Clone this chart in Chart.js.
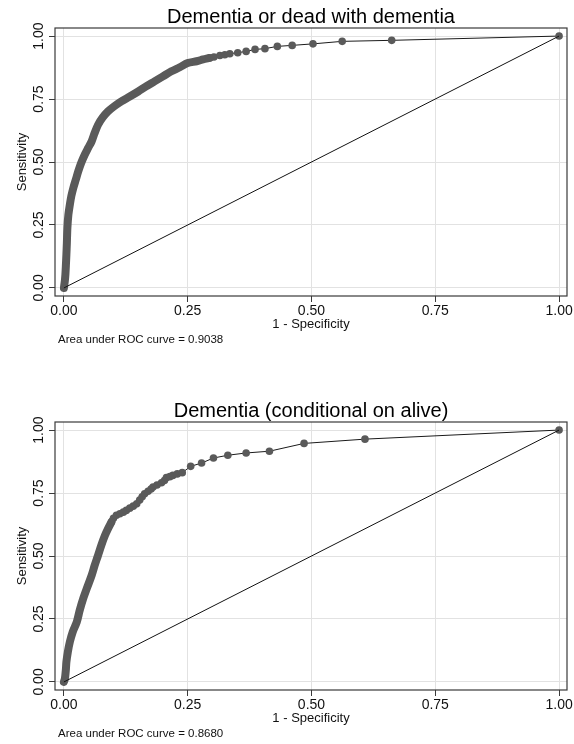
<!DOCTYPE html>
<html>
<head>
<meta charset="utf-8">
<script src="https://cdn.jsdelivr.net/npm/chart.js@4/dist/chart.umd.min.js"></script>
<style>
  html, body { margin: 0; padding: 0; background: #fff; }
  body { width: 574px; height: 744px; position: relative; overflow: hidden; font-family: "Liberation Sans", Arial, sans-serif; }
  canvas { position: absolute; left: 0; }
  #c1 { top: 0; }
  #c2 { top: 394px; }
  .auc { position: absolute; left: 58px; font-size: 11.5px; color: #111; white-space: nowrap; }
  #auc1 { top: 333px; }
  #auc2 { top: 727px; }
</style>
</head>
<body>
<canvas id="c1" width="574" height="334"></canvas>
<div class="auc" id="auc1">Area under ROC curve = 0.9038</div>
<canvas id="c2" width="574" height="334"></canvas>
<div class="auc" id="auc2">Area under ROC curve = 0.8680</div>
<script>
// =========================================================
// DATOS
// =========================================================
const TICKS = [0, 0.25, 0.5, 0.75, 1];

// panel 1: dementia or dead with dementia
const p1Title = 'Dementia or dead with dementia';
// tramo denso (los marcadores se solapan)
const p1DenseFpr = [0, 0.002, 0.003, 0.004, 0.005, 0.006, 0.007, 0.009, 0.012, 0.015, 0.019, 0.024, 0.029, 0.035, 0.042, 0.049, 0.056, 0.062, 0.069, 0.078, 0.089, 0.102, 0.116, 0.133, 0.150, 0.166, 0.183, 0.200, 0.217, 0.234, 0.250, 0.268, 0.281, 0.294];
const p1DenseTpr = [0, 0.030, 0.053, 0.090, 0.132, 0.180, 0.238, 0.290, 0.331, 0.365, 0.397, 0.430, 0.463, 0.497, 0.529, 0.556, 0.582, 0.615, 0.648, 0.676, 0.701, 0.722, 0.741, 0.760, 0.780, 0.800, 0.820, 0.840, 0.860, 0.876, 0.893, 0.900, 0.907, 0.913];
// tramo con marcadores sueltos
const p1PtFpr = [0.294, 0.303, 0.315, 0.325, 0.335, 0.351, 0.368, 0.386, 0.406, 0.431, 0.461, 0.503, 0.562, 0.662, 1];
const p1PtTpr = [0.913, 0.917, 0.923, 0.926, 0.930, 0.934, 0.939, 0.947, 0.950, 0.959, 0.963, 0.969, 0.979, 0.983, 1];

// panel 2: dementia (conditional on alive)
const p2Title = 'Dementia (conditional on alive)';
const p2DenseFpr = [0, 0.002, 0.004, 0.005, 0.008, 0.012, 0.018, 0.026, 0.032, 0.039, 0.047, 0.056, 0.062, 0.069, 0.076, 0.083, 0.090, 0.096];
const p2DenseTpr = [0, 0.013, 0.050, 0.079, 0.120, 0.159, 0.200, 0.238, 0.285, 0.331, 0.375, 0.423, 0.462, 0.503, 0.545, 0.582, 0.612, 0.635];
const p2PtFpr = [0.096, 0.100, 0.106, 0.113, 0.120, 0.126, 0.133, 0.140, 0.147, 0.153, 0.158, 0.163, 0.170, 0.176, 0.180, 0.188, 0.197, 0.203, 0.207, 0.214, 0.220, 0.229, 0.239, 0.256, 0.278, 0.302, 0.331, 0.368, 0.415, 0.485, 0.608, 1];
const p2PtTpr = [0.635, 0.650, 0.662, 0.668, 0.674, 0.681, 0.690, 0.698, 0.707, 0.722, 0.735, 0.747, 0.757, 0.766, 0.774, 0.782, 0.791, 0.800, 0.811, 0.815, 0.820, 0.826, 0.831, 0.856, 0.869, 0.889, 0.900, 0.909, 0.916, 0.947, 0.964, 1];

// diagonal de referencia
const diagFpr = [0, 1];
const diagTpr = [0, 1];

// =========================================================
// GRAFICO
// =========================================================
const MARK = '#5a5a5a';
const FONT = "'Liberation Sans', Arial, sans-serif";

const pares = (xs, ys) => xs.map((x, i) => ({ x: x, y: ys[i] }));

// marco completo alrededor del area del grafico
const marco = {
    id: 'marco',
    afterDraw(chart) {
        const { ctx, chartArea: a } = chart;
        ctx.save();
        ctx.strokeStyle = '#3a3a3a';
        ctx.lineWidth = 1.2;
        ctx.strokeRect(a.left, a.top, a.right - a.left, a.bottom - a.top);
        ctx.restore();
    }
};

function crearRoc(id, titulo, dFpr, dTpr, pFpr, pTpr) {
    return new Chart(document.getElementById(id), {
        type: 'scatter',
        data: {
            datasets: [
                { data: pares(diagFpr, diagTpr), showLine: true, borderColor: '#111', borderWidth: 1, pointRadius: 0 },
                { data: pares(pFpr, pTpr), showLine: true, borderColor: '#1a1a1a', borderWidth: 1,
                  pointRadius: 3.8, pointBackgroundColor: MARK, pointBorderWidth: 0 },
                { data: pares(dFpr, dTpr), showLine: true, borderColor: MARK, borderWidth: 8,
                  borderCapStyle: 'round', borderJoinStyle: 'round', pointRadius: 0, tension: 0.3 }
            ]
        },
        options: {
            responsive: false,
            animation: false,
            layout: { padding: { left: 0, right: 7, top: 0, bottom: 0 } },
            plugins: {
                legend: { display: false },
                tooltip: { enabled: false },
                title: {
                    display: true, text: titulo, fullSize: false, color: '#000',
                    font: { family: FONT, size: 20, weight: 'normal' },
                    padding: { top: 5, bottom: -1 }
                }
            },
            scales: {
                x: {
                    type: 'linear', min: -0.018, max: 1.016,
                    afterBuildTicks: s => { s.ticks = TICKS.map(v => ({ value: v })); },
                    afterFit: s => { s.height = 38; s.paddingLeft = 0; s.paddingRight = 0; },
                    grid: { color: '#e2e2e2', lineWidth: 1, tickColor: '#3a3a3a', tickLength: 6 },
                    border: { display: false },
                    ticks: { padding: 1, color: '#111', font: { family: FONT, size: 14 }, callback: v => v.toFixed(2), maxRotation: 0 },
                    title: { display: true, text: '1 - Specificity', color: '#111',
                             font: { family: FONT, size: 13 }, padding: { top: 0, bottom: 2 } }
                },
                y: {
                    type: 'linear', min: -0.032, max: 1.032,
                    afterBuildTicks: s => { s.ticks = TICKS.map(v => ({ value: v })); },
                    afterFit: s => { s.width = 55; s.paddingTop = 0; s.paddingBottom = 0; },
                    grid: { color: '#e2e2e2', lineWidth: 1, tickColor: '#3a3a3a', tickLength: 6 },
                    border: { display: false },
                    ticks: { padding: -4, color: '#111', font: { family: FONT, size: 14 }, callback: v => v.toFixed(2),
                             minRotation: 90, maxRotation: 90, crossAlign: 'center' },
                    title: { display: true, text: 'Sensitivity', color: '#111',
                             font: { family: FONT, size: 13 }, padding: { top: 15, bottom: 0 } }
                }
            }
        },
        plugins: [marco]
    });
}

crearRoc('c1', p1Title, p1DenseFpr, p1DenseTpr, p1PtFpr, p1PtTpr);
crearRoc('c2', p2Title, p2DenseFpr, p2DenseTpr, p2PtFpr, p2PtTpr);
</script>
</body>
</html>
